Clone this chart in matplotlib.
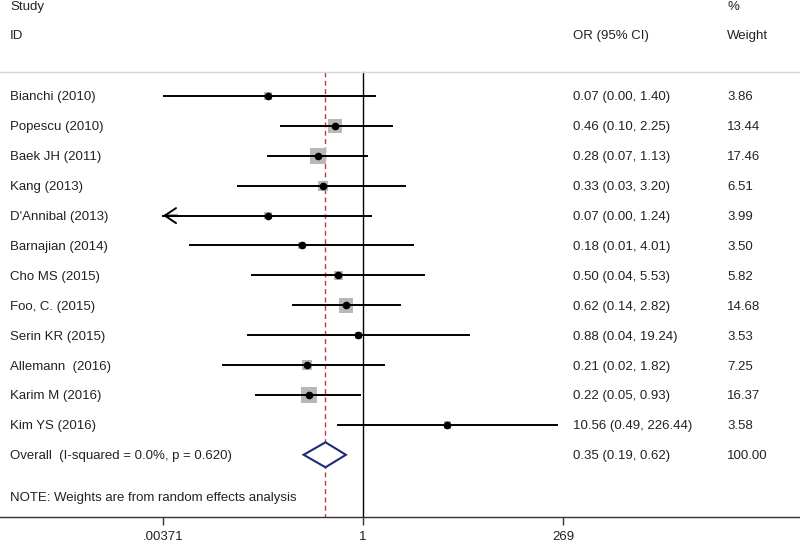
import numpy as np
import matplotlib
matplotlib.use('Agg')
import matplotlib.pyplot as plt
from matplotlib.transforms import blended_transform_factory

plt.rcParams['font.family'] = ['Liberation Sans', 'DejaVu Sans']

studies = ['Bianchi (2010)', 'Popescu (2010)', 'Baek JH (2011)', 'Kang (2013)',
           "D'Annibal (2013)", 'Barnajian (2014)', 'Cho MS (2015)', 'Foo, C. (2015)',
           'Serin KR (2015)', 'Allemann  (2016)', 'Karim M (2016)', 'Kim YS (2016)']
odds = [0.07, 0.46, 0.28, 0.33, 0.07, 0.18, 0.50, 0.62, 0.88, 0.21, 0.22, 10.56]
# lower bounds (the table rounds some to 0.00)
lower = [0.0038, 0.10, 0.07, 0.03, 0.002, 0.008, 0.045, 0.14, 0.04, 0.02, 0.05, 0.49]
upper = [1.40, 2.25, 1.13, 3.20, 1.24, 4.01, 5.53, 2.82, 19.24, 1.82, 0.93, 226.44]
ci_text = ['0.07 (0.00, 1.40)', '0.46 (0.10, 2.25)', '0.28 (0.07, 1.13)', '0.33 (0.03, 3.20)',
           '0.07 (0.00, 1.24)', '0.18 (0.01, 4.01)', '0.50 (0.04, 5.53)', '0.62 (0.14, 2.82)',
           '0.88 (0.04, 19.24)', '0.21 (0.02, 1.82)', '0.22 (0.05, 0.93)', '10.56 (0.49, 226.44)']
weights = [3.86, 13.44, 17.46, 6.51, 3.99, 3.50, 5.82, 14.68, 3.53, 7.25, 16.37, 3.58]

overall = 0.35
overall_lo = 0.19
overall_hi = 0.62
overall_label = 'Overall  (I-squared = 0.0%, p = 0.620)'
overall_text = '0.35 (0.19, 0.62)'
overall_weight = '100.00'

tick_vals = [1 / 269, 1, 269]
tick_labels = ['.00371', '1', '269']

W, H = 800, 543
fig = plt.figure(figsize=(W / 100, H / 100), dpi=100)
ax = fig.add_axes([0, (H - 517) / H, 1, 517 / H])

# pixel layout: x = 363 + 82.3*log10(v)
ax.set_xscale('log')
ax.set_xlim(10 ** (-363 / 82.3), 10 ** ((W - 363) / 82.3))
row_px = 29.9
top_idx = -96 / row_px
bot_idx = (517 - 96) / row_px
ax.set_ylim(bot_idx, top_idx)

for s in ['top', 'left', 'right']:
    ax.spines[s].set_visible(False)
ax.spines['bottom'].set_color('#333333')
ax.spines['bottom'].set_linewidth(1.0)
ax.set_yticks([])
ax.set_xticks(tick_vals)
ax.set_xticklabels(tick_labels, fontsize=9.5, color='#222222')
ax.xaxis.set_minor_locator(matplotlib.ticker.NullLocator())
ax.tick_params(axis='x', length=6, width=1, color='#333333', pad=4)

xmin = tick_vals[0]
sep_idx = (72 - 96) / row_px
ys = np.arange(len(studies))

# reference lines
ax.plot([1, 1], [sep_idx, bot_idx], color='black', lw=1.0, zorder=1)
ax.plot([overall, overall], [sep_idx, bot_idx], color='#c03838', lw=1.0,
        dashes=(3.5, 2.5), zorder=1)

# weight boxes
ax.scatter(odds, ys, s=np.array(weights) * 7.6, marker='s', color='#b8b8b8',
           edgecolors='none', zorder=2)

for i in range(len(studies)):
    lo = max(lower[i], xmin)
    ax.plot([lo, upper[i]], [ys[i], ys[i]], color='black', lw=1.4, zorder=3)
    if lower[i] < xmin:
        ax.annotate('', xy=(xmin, ys[i]), xytext=(xmin * 1.5, ys[i]),
                    arrowprops=dict(arrowstyle='->, head_length=0.45, head_width=0.3',
                                    lw=1.4, color='black', mutation_scale=18,
                                    shrinkA=0, shrinkB=0), zorder=3)
ax.plot(odds, ys, 'o', color='black', ms=4.5, zorder=4)

# overall diamond
oy = len(studies)
dh = 12.5 / row_px
ax.fill([overall_lo, overall, overall_hi, overall, overall_lo],
        [oy, oy - dh, oy, oy + dh, oy], facecolor='white', edgecolor='#1f2a78',
        lw=1.5, zorder=5)

tr = blended_transform_factory(ax.transAxes, ax.transData)

# header separator
ax.plot([0, 1], [sep_idx, sep_idx], transform=tr, color='#d8d8d8', lw=1.0, clip_on=False)

fs = 9.5
col_study = 10 / W
col_ci = 573 / W
col_w = 727 / W
dy = 1.5 / row_px


def put(x, y, s):
    ax.text(x, y + dy, s, transform=tr, fontsize=fs, va='center', color='#222222')


put(col_study, (6 - 96) / row_px, 'Study')
put(col_study, (35 - 96) / row_px, 'ID')
put(col_ci, (35 - 96) / row_px, 'OR (95% CI)')
put(col_w, (6 - 96) / row_px, '%')
put(col_w, (35 - 96) / row_px, 'Weight')

for i in range(len(studies)):
    put(col_study, ys[i], studies[i])
    put(col_ci, ys[i], ci_text[i])
    put(col_w, ys[i], '%.2f' % weights[i])

put(col_study, oy, overall_label)
put(col_ci, oy, overall_text)
put(col_w, oy, overall_weight)

put(col_study, (497 - 96) / row_px, 'NOTE: Weights are from random effects analysis')

fig.savefig('out.png', dpi=100)
